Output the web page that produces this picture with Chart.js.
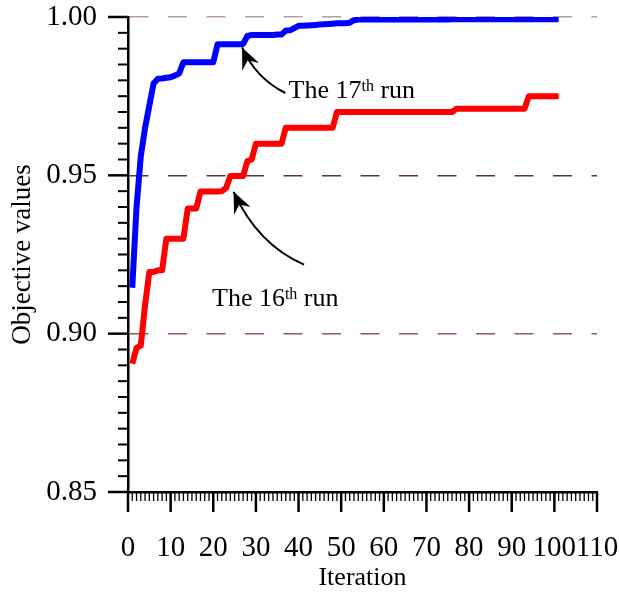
<!DOCTYPE html>
<html>
<head>
<meta charset="utf-8">
<script src="https://cdn.jsdelivr.net/npm/chart.js@4.4.1/dist/chart.umd.min.js"></script>
<style>
  html, body { margin: 0; padding: 0; background: #fff; }
  #chart { display: block; }
</style>
</head>
<body>
<canvas id="chart" width="619" height="594"></canvas>
<script>
const iterations = [
  1, 2, 3, 4, 5, 6, 7, 8, 9, 10, 11, 12, 13, 14, 15, 16, 17, 18, 19, 20,
  21, 22, 23, 24, 25, 26, 27, 28, 29, 30, 31, 32, 33, 34, 35, 36, 37, 38, 39, 40,
  41, 42, 43, 44, 45, 46, 47, 48, 49, 50, 51, 52, 53, 54, 55, 56, 57, 58, 59, 60,
  61, 62, 63, 64, 65, 66, 67, 68, 69, 70, 71, 72, 73, 74, 75, 76, 77, 78, 79, 80,
  81, 82, 83, 84, 85, 86, 87, 88, 89, 90, 91, 92, 93, 94, 95, 96, 97, 98, 99, 100, 101
];

// 17th run (blue)
const run17 = [
  0.9145, 0.940, 0.956, 0.965, 0.972, 0.979, 0.9805, 0.9806, 0.9808, 0.981,
  0.9815, 0.9822, 0.9857, 0.9857, 0.9857, 0.9857, 0.9857, 0.9857, 0.9857, 0.9857,
  0.9914, 0.9914, 0.9914, 0.9914, 0.9914, 0.9914, 0.9915, 0.994, 0.9943, 0.9943,
  0.9943, 0.9943, 0.9943, 0.9943, 0.9945, 0.9945, 0.9957, 0.9958, 0.9965, 0.9972,
  0.9972, 0.9973, 0.9974, 0.9975, 0.9976, 0.9977, 0.9978, 0.9979, 0.998, 0.998,
  0.998, 0.9982, 0.999, 0.9992, 0.9992, 0.9992, 0.9992, 0.9992, 0.9992, 0.9992,
  0.9992, 0.9992, 0.9992, 0.9992, 0.9992, 0.9992, 0.9992, 0.9992, 0.9992, 0.9992,
  0.9992, 0.9992, 0.9992, 0.9992, 0.9992, 0.9993, 0.9993, 0.9993, 0.9993, 0.9993,
  0.9993, 0.9993, 0.9993, 0.9993, 0.9993, 0.9993, 0.9993, 0.9993, 0.9993, 0.9993,
  0.9993, 0.9993, 0.9993, 0.9993, 0.9993, 0.9993, 0.9993, 0.9993, 0.9993, 0.9993, 0.9993
];

// 16th run (red)
const run16 = [
  0.8905, 0.8955, 0.8962, 0.909, 0.9195, 0.9195, 0.920, 0.920, 0.930, 0.930,
  0.930, 0.930, 0.930, 0.9395, 0.9395, 0.9395, 0.9449, 0.9449, 0.9449, 0.9449,
  0.9449, 0.945, 0.946, 0.9498, 0.9498, 0.9498, 0.9498, 0.9545, 0.955, 0.960,
  0.960, 0.960, 0.960, 0.960, 0.960, 0.960, 0.965, 0.965, 0.965, 0.965,
  0.965, 0.965, 0.965, 0.965, 0.965, 0.965, 0.965, 0.965, 0.970, 0.970,
  0.970, 0.970, 0.970, 0.970, 0.970, 0.970, 0.970, 0.970, 0.970, 0.970,
  0.970, 0.970, 0.970, 0.970, 0.970, 0.970, 0.970, 0.970, 0.970, 0.970,
  0.970, 0.970, 0.970, 0.970, 0.970, 0.970, 0.971, 0.971, 0.971, 0.971,
  0.971, 0.971, 0.971, 0.971, 0.971, 0.971, 0.971, 0.971, 0.971, 0.971,
  0.971, 0.971, 0.971, 0.975, 0.975, 0.975, 0.975, 0.975, 0.975, 0.975, 0.975
];

const xTickLabels = ['0', '10', '20', '30', '40', '50', '60', '70', '80', '90', '100', '110'];
const yTickLabels = ['0.85', '0.90', '0.95', '1.00'];

// dashed reference lines
const refLineColors = { '0.90': '#915858', '0.95': '#5e3434', '1.00': '#b59d9d' };

// callouts: arrow tail -> bend -> tip, label baseline start (data coordinates)
const callouts = [
  { run: '17', tail: [36.9, 0.9760], bend: [30.0, 0.9806], tip: [26.75, 0.9904], at: [37.65, 0.97435] },
  { run: '16', tail: [41.3, 0.9218], bend: [30.5, 0.9281], tip: [24.75, 0.9448], at: [19.7, 0.9088] }
];

const FONT = "'Liberation Serif', 'Times New Roman', serif";
Chart.defaults.font.family = FONT;
Chart.defaults.font.size = 29;
Chart.defaults.color = '#000';

function labelFor(list, v) {
  const hit = list.find(s => Math.abs(parseFloat(s) - v) < 1e-6);
  return hit === undefined ? '' : hit;
}

// major and minor tick marks on both axes
const tickMarks = {
  id: 'tickMarks',
  afterDraw(chart) {
    const ctx = chart.ctx;
    const xs = chart.scales.x, ys = chart.scales.y;
    ctx.save();
    ctx.strokeStyle = '#000';
    xs.ticks.forEach(t => {
      const p = xs.getPixelForValue(t.value);
      const major = labelFor(xTickLabels, t.value) !== '';
      ctx.lineWidth = major ? 2.5 : 1.3;
      ctx.beginPath();
      ctx.moveTo(p, xs.top);
      ctx.lineTo(p, xs.top + (major ? 20 : 9));
      ctx.stroke();
    });
    ys.ticks.forEach(t => {
      const p = ys.getPixelForValue(t.value);
      const major = labelFor(yTickLabels, t.value) !== '';
      ctx.lineWidth = major ? 2.5 : 2;
      ctx.beginPath();
      ctx.moveTo(ys.right, p);
      ctx.lineTo(ys.right - (major ? 20 : 10), p);
      ctx.stroke();
    });
    ctx.restore();
  }
};

// curved arrows with "The Nth run" labels
const runNotes = {
  id: 'runNotes',
  afterDatasetsDraw(chart) {
    const ctx = chart.ctx;
    const xs = chart.scales.x, ys = chart.scales.y;
    const px = p => [xs.getPixelForValue(p[0]), ys.getPixelForValue(p[1])];
    ctx.save();
    callouts.forEach(n => {
      const [sx, sy] = px(n.tail), [cx, cy] = px(n.bend), [tx, ty] = px(n.tip);
      ctx.strokeStyle = '#000';
      ctx.fillStyle = '#000';
      ctx.lineWidth = 2;
      ctx.beginPath();
      ctx.moveTo(sx, sy);
      ctx.quadraticCurveTo(cx, cy, tx, ty);
      ctx.stroke();

      const a = Math.atan2(cy - ty, cx - tx);
      const len = 23, spread = 0.41, notch = 14;
      ctx.beginPath();
      ctx.moveTo(tx, ty);
      ctx.lineTo(tx + len * Math.cos(a - spread), ty + len * Math.sin(a - spread));
      ctx.lineTo(tx + notch * Math.cos(a), ty + notch * Math.sin(a));
      ctx.lineTo(tx + len * Math.cos(a + spread), ty + len * Math.sin(a + spread));
      ctx.closePath();
      ctx.fill();

      const [lx, ly] = px(n.at);
      ctx.textAlign = 'left';
      ctx.textBaseline = 'alphabetic';
      ctx.font = '26px ' + FONT;
      const head = 'The ' + n.run;
      ctx.fillText(head, lx, ly);
      let w = ctx.measureText(head).width;
      ctx.font = '16px ' + FONT;
      ctx.fillText('th', lx + w, ly - 7);
      w += ctx.measureText('th').width;
      ctx.font = '26px ' + FONT;
      ctx.fillText(' run', lx + w, ly);
    });
    ctx.restore();
  }
};

const toPoints = ys => iterations.map((it, i) => ({ x: it, y: ys[i] }));

new Chart(document.getElementById('chart'), {
  type: 'line',
  data: {
    datasets: [
      {
        label: 'The 17th run',
        data: toPoints(run17),
        borderColor: '#0000ff',
        borderWidth: 6,
        borderJoinStyle: 'round',
        pointRadius: 0,
        fill: false
      },
      {
        label: 'The 16th run',
        data: toPoints(run16),
        borderColor: '#ff0000',
        borderWidth: 6,
        borderJoinStyle: 'round',
        pointRadius: 0,
        fill: false
      }
    ]
  },
  options: {
    responsive: false,
    animation: false,
    layout: { padding: { top: 17, right: 22, left: 0, bottom: 0 } },
    plugins: {
      legend: { display: false },
      tooltip: { enabled: false }
    },
    scales: {
      x: {
        type: 'linear',
        min: 0,
        max: 110,
        ticks: {
          stepSize: 1,
          autoSkip: false,
          maxRotation: 0,
          padding: 39,
          callback: v => labelFor(xTickLabels, v)
        },
        grid: { display: false, drawTicks: false },
        border: { display: true, color: '#000', width: 2.5 },
        title: { display: true, text: 'Iteration', font: { size: 26 }, padding: { top: 0, bottom: 0 } },
        afterFit(s) {
          s.height = 102;
          s.paddingLeft = 0;
          s.paddingRight = 0;
        }
      },
      y: {
        min: 0.85,
        max: 1.0,
        ticks: {
          stepSize: 0.005,
          autoSkip: false,
          padding: 31,
          callback: v => labelFor(yTickLabels, v)
        },
        grid: {
          drawTicks: false,
          lineWidth: 1.5,
          color: ctx => {
            const key = labelFor(yTickLabels, ctx.tick.value);
            return refLineColors[key] || 'rgba(0,0,0,0)';
          }
        },
        border: { display: true, color: '#000', width: 2.5, dash: [19, 19.5] },
        title: { display: true, text: 'Objective values', font: { size: 27 }, padding: { top: 7, bottom: 0 } },
        afterFit(s) {
          s.width = 128;
          s.paddingTop = 0;
          s.paddingBottom = 0;
        }
      }
    }
  },
  plugins: [tickMarks, runNotes]
});
</script>
</body>
</html>
